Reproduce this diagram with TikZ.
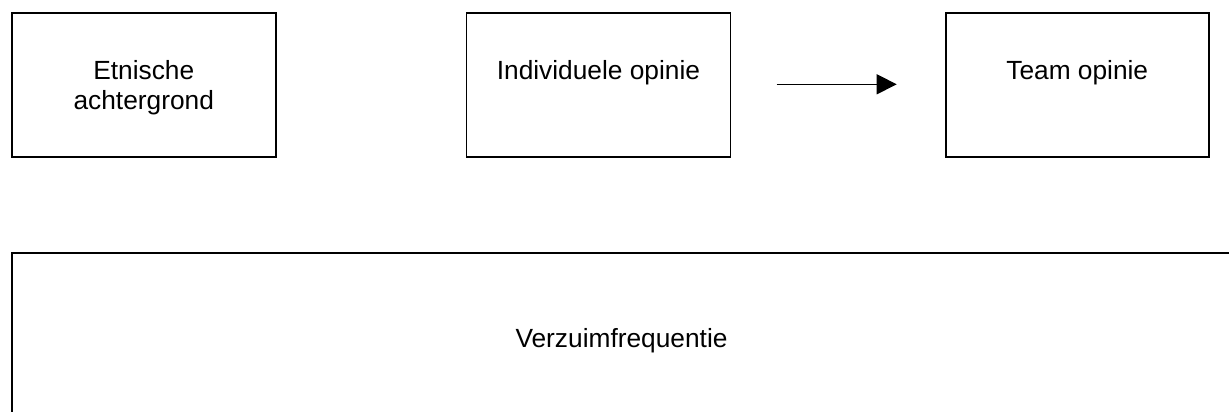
\documentclass[tikz,border=0pt]{standalone}
\usepackage{fontspec}
\setmainfont{Liberation Sans}
\usetikzlibrary{arrows.meta,calc}
\tikzset{
  box/.style={draw=black, line width=1.5pt, inner sep=0pt, anchor=north west},
  txt/.style={inner sep=0pt, align=center, font=\fontsize{26.3}{30}\selectfont, text=black},
  conn/.style={line width=1.4pt, -{Triangle[length=20pt,width=20pt]}}
}
\begin{document}
\begin{tikzpicture}[x=1pt,y=-1pt]
\clip (0,0) rectangle (1229,412);
\fill[white] (0,0) rectangle (1229,412);
% top boxes
\node[box, minimum width=264pt, minimum height=144pt] (b1) at (11,12.3) {};
\node[box, minimum width=264pt, minimum height=144pt] (b2) at (465.7,12.3) {};
\node[box, minimum width=263pt, minimum height=144pt] (b3) at (945,12.3) {};
% bottom box (extends past the frame)
\node[box, line width=2pt, minimum width=1221pt, minimum height=190pt] (b4) at (11,251.7) {};
% texts
\node[txt, anchor=base] (t1) at ($(b1.north)+(0,96.7)$) {Etnische\\achtergrond};
\node[txt, anchor=base] (t2) at ($(b2.north)+(0,66.7)$) {Individuele opinie};
\node[txt, anchor=base] (t3) at ($(b3.north)+(0,66.7)$) {Team opinie};
\node[txt, anchor=base] (t4) at (621.5,347.7) {Verzuimfrequentie};
% arrow
\coordinate (as) at (776.7,84.3);
\coordinate (ae) at (896.7,84.3);
\draw[conn] (as) -- (ae);
\end{tikzpicture}
\end{document}
